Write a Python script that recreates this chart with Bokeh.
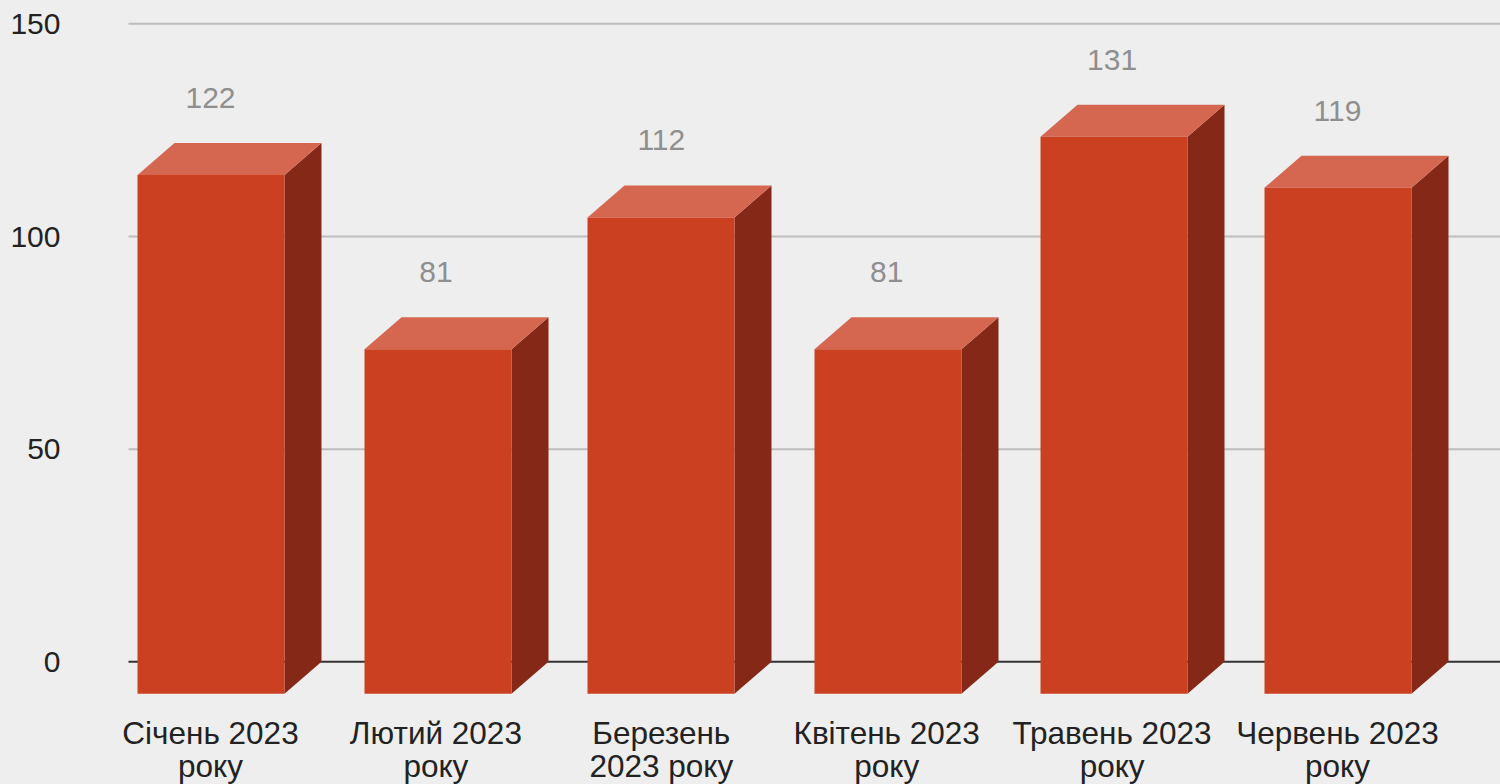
from bokeh.plotting import figure
from bokeh.models import ColumnDataSource, Range1d, Span, FixedTicker
from bokeh.core.properties import value
from bokeh.embed import file_html
from bokeh.resources import INLINE

categories = ["Січень 2023\nроку", "Лютий 2023\nроку", "Березень\n2023 року",
              "Квітень 2023\nроку", "Травень 2023\nроку", "Червень 2023\nроку"]
values = [122, 81, 112, 81, 131, 119]
y_ticks = [0, 50, 100, 150]
grid_ticks = [50, 100, 150]

FONT = "Liberation Sans"
BG = "#eeeeee"
W, H = 1500, 784
LEFT = 112
GRID_LEFT = 128
PX_Y = 4.253
STEP = 225.4
DX = 37 / STEP      # depth of a bar, in category units
DY = 32 / PX_Y      # depth of a bar, in value units
HALF = 73.5 / STEP
bar_shift = [0, 1.6 / STEP, -0.8 / STEP, 0.8 / STEP, 1.4 / STEP, 0]

x_pos = list(range(len(values)))
x_start = -(210 - LEFT) / STEP
x_end = x_start + (W - LEFT) / STEP
x_grid = -(210 - GRID_LEFT) / STEP
y_top = 661.3 / PX_Y
y_bottom = y_top - H / PX_Y

p = figure(width=W, height=H, output_backend="svg", toolbar_location=None,
           x_range=Range1d(x_start, x_end), y_range=Range1d(y_bottom, y_top),
           min_border_left=LEFT, min_border_right=0, min_border_top=0, min_border_bottom=0,
           background_fill_color=BG, border_fill_color=BG)
p.outline_line_color = None

p.xgrid.visible = False
p.ygrid.visible = False
p.segment(x0=[x_grid] * len(grid_ticks), x1=[x_end] * len(grid_ticks), y0=grid_ticks, y1=grid_ticks,
          line_color="#bdbdbd", line_width=2, level="underlay")
p.segment(x0=[x_grid], x1=[x_end], y0=[0], y1=[0], line_color="#333333", line_width=2, level="underlay")

p.yaxis.ticker = FixedTicker(ticks=y_ticks)
p.yaxis.axis_line_color = None
p.yaxis.major_tick_line_color = None
p.yaxis.minor_tick_line_color = None
p.yaxis.major_tick_out = 0
p.yaxis.major_tick_in = 0
p.yaxis.major_label_standoff = 52
p.yaxis.major_label_text_font = FONT
p.yaxis.major_label_text_font_size = "30px"
p.yaxis.major_label_text_color = "#222222"

xaxis = p.xaxis[0]
xaxis.fixed_location = -DY
xaxis.ticker = FixedTicker(ticks=x_pos)
xaxis.major_label_overrides = {i: c for i, c in enumerate(categories)}
xaxis.axis_line_color = None
xaxis.major_tick_line_color = None
xaxis.minor_tick_line_color = None
xaxis.major_tick_out = 0
xaxis.major_tick_in = 0
xaxis.major_label_standoff = 21
xaxis.major_label_text_font = FONT
xaxis.major_label_text_font_size = "31.5px"
xaxis.major_label_text_line_height = 0.92
xaxis.major_label_text_color = "#222222"

bar_x = [x + s + 0.5 / STEP for x, s in zip(x_pos, bar_shift)]
side_xs, side_ys, top_xs, top_ys = [], [], [], []
for x, v in zip(bar_x, values):
    r = x + HALF
    l = x - HALF
    side_xs.append([r, r + DX, r + DX, r])
    side_ys.append([-DY, 0, v, v - DY])
    top_xs.append([l, l + DX, r + DX, r])
    top_ys.append([v - DY, v, v, v - DY])

p.patches(side_xs, side_ys, fill_color="#852817", line_color=None)
p.patches(top_xs, top_ys, fill_color="#d56750", line_color=None)
p.quad(left=[x - HALF for x in bar_x], right=[x + HALF for x in bar_x],
       bottom=[-DY] * len(values), top=[v - DY for v in values],
       fill_color="#cc4022", line_color=None)

label_x = [x + 0.0 for x in x_pos]
src = ColumnDataSource(dict(x=label_x, y=values, t=[str(v) for v in values]))
p.text(x="x", y="y", text="t", source=src, text_align="center", text_baseline="middle",
       y_offset=-45, text_color="#8f8f8f", text_font=value(FONT), text_font_size="30px")

html = file_html(p, INLINE).replace("<head>", "<head><style>html,body{background:#eeeeee}</style>", 1)
open("out.html", "w").write(html)
